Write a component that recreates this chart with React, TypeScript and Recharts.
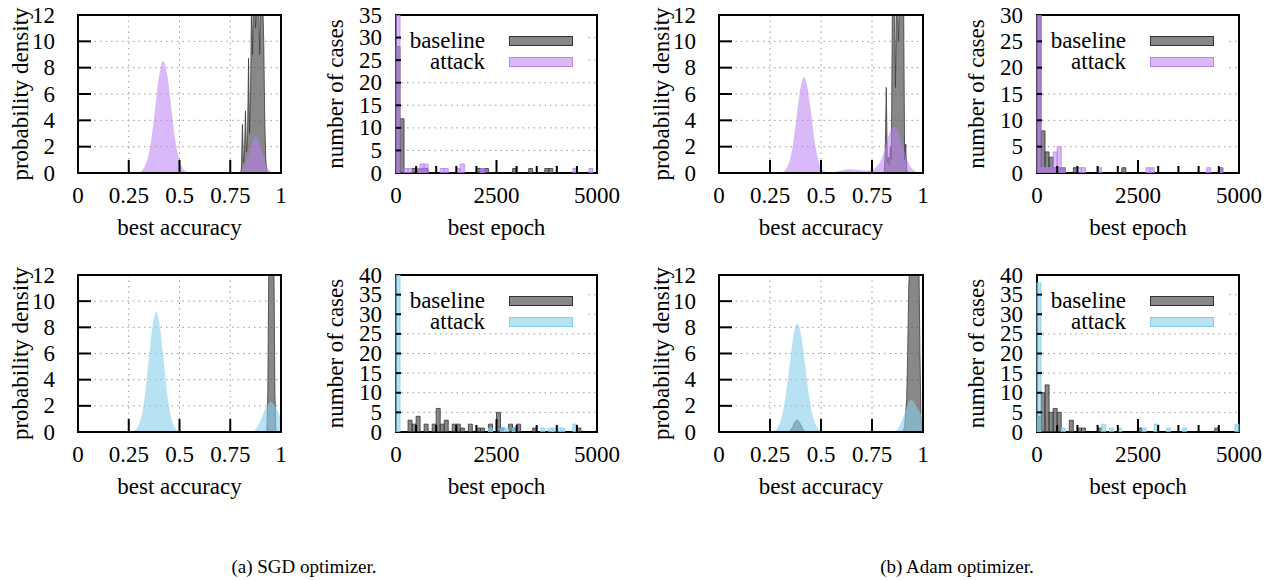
import React from 'react';
import { ComposedChart, Area, Bar, XAxis, YAxis, CartesianGrid, ReferenceArea, Legend } from 'recharts';

const FONT = '"Liberation Serif", "Times New Roman", Times, serif';
const FS = 23;
const PURPLE = '#b980f0';
const BLUE = '#87ceeb';
const GRAY = '#555555';

// ---- best accuracy densities ----
// SGD, first row
const sgdAtkAccX = [0, 0.30, 0.32, 0.34, 0.36, 0.38, 0.40, 0.42, 0.44, 0.46, 0.48, 0.50, 0.52, 0.54, 0.56, 0.76, 0.78, 0.80, 0.82, 0.84, 0.86, 0.875, 0.89, 0.91, 0.93, 0.95, 0.97, 0.99, 1];
const sgdAtkAccY = [0, 0.06, 0.27, 0.94, 2.4, 4.9, 7.4, 8.5, 7.4, 4.9, 2.4, 0.94, 0.27, 0.06, 0, 0, 0.02, 0.12, 0.52, 1.4, 2.47, 2.8, 2.47, 1.4, 0.52, 0.12, 0.02, 0, 0];
const sgdBaseAccX = [0.80, 0.805, 0.81, 0.815, 0.82, 0.825, 0.83, 0.835, 0.84, 0.845, 0.85, 0.855, 0.86, 0.865, 0.87, 0.875, 0.88, 0.885, 0.89, 0.895, 0.90, 0.905, 0.91, 0.915, 0.92, 0.925, 0.93, 0.935];
const sgdBaseAccY = [0, 0.3, 3.7, 0.8, 1.5, 4.7, 1.6, 2.5, 8.7, 3, 6, 13, 9, 13, 13, 11, 13, 13, 13, 9, 13, 13, 13, 10, 4, 1, 0.2, 0];
// Adam, first row
const adamAtkAccX = [0, 0.30, 0.32, 0.34, 0.36, 0.38, 0.40, 0.417, 0.43, 0.45, 0.47, 0.49, 0.51, 0.53, 0.55, 0.58, 0.61, 0.64, 0.67, 0.70, 0.73, 0.76, 0.78, 0.80, 0.82, 0.84, 0.86, 0.88, 0.90, 0.92, 0.94, 0.96, 0.98, 1];
const adamAtkAccY = [0, 0.02, 0.16, 0.65, 1.9, 4.2, 6.5, 7.3, 6.8, 4.7, 2.3, 0.8, 0.2, 0.06, 0.05, 0.12, 0.22, 0.28, 0.25, 0.2, 0.18, 0.3, 0.6, 1.2, 2.2, 3.2, 3.5, 3.1, 2.1, 1.1, 0.45, 0.15, 0.04, 0];
const adamBaseAccX = [0.81, 0.815, 0.82, 0.825, 0.83, 0.835, 0.84, 0.845, 0.85, 0.855, 0.86, 0.865, 0.87, 0.875, 0.88, 0.885, 0.89, 0.895, 0.90, 0.905, 0.91, 0.915, 0.92, 0.925];
const adamBaseAccY = [0, 1.5, 6.5, 0.8, 1.2, 0.6, 2, 1, 13, 13, 13, 6.5, 13, 13, 10, 13, 13, 13, 13, 13, 1, 2.2, 0.3, 0];
// SGD, second row
const sgdAtkAcc2X = [0, 0.27, 0.29, 0.31, 0.33, 0.35, 0.37, 0.385, 0.40, 0.42, 0.44, 0.46, 0.48, 0.50, 0.52, 0.84, 0.86, 0.88, 0.90, 0.92, 0.94, 0.95, 0.96, 0.98, 1];
const sgdAtkAcc2Y = [0, 0.06, 0.28, 1.05, 2.85, 5.75, 8.4, 9.2, 8.4, 5.75, 2.85, 1.05, 0.28, 0.06, 0, 0, 0.05, 0.3, 0.9, 1.7, 2.2, 2.3, 2.2, 1.7, 1.0];
const sgdBaseAcc2X = [0.93, 0.935, 0.94, 0.965, 0.97, 0.975];
const sgdBaseAcc2Y = [0, 3, 13, 13, 3, 0];
// Adam, second row
const adamAtkAcc2X = [0, 0.27, 0.29, 0.31, 0.33, 0.35, 0.37, 0.384, 0.40, 0.42, 0.44, 0.46, 0.48, 0.50, 0.52, 0.84, 0.86, 0.88, 0.90, 0.92, 0.94, 0.96, 0.98, 1];
const adamAtkAcc2Y = [0, 0.1, 0.42, 1.3, 3.1, 5.6, 7.8, 8.3, 7.6, 5.4, 2.9, 1.2, 0.37, 0.09, 0, 0, 0.05, 0.3, 1.0, 1.9, 2.45, 2.2, 1.6, 1.2];
const adamBaseAcc2X = [0.34, 0.35, 0.36, 0.37, 0.384, 0.40, 0.41, 0.42, 0.43, 0.90, 0.91, 0.92, 0.925, 0.93, 0.935, 0.98, 0.985, 0.99, 1];
const adamBaseAcc2Y = [0, 0.1, 0.35, 0.7, 0.93, 0.6, 0.25, 0.05, 0, 0, 0.4, 2.5, 6, 11, 13, 13, 6, 1, 0.2];

const accTicks = [0, 0.25, 0.5, 0.75, 1];
const densityTicks = [0, 2, 4, 6, 8, 10, 12];

// ---- best epoch histograms (100-epoch bins, bin centres) ----
const epochBins = [50, 150, 250, 350, 450, 550, 650, 750, 850, 950, 1050, 1150, 1250, 1350, 1450, 1550, 1650, 1750, 1850, 1950, 2050, 2150, 2250, 2350, 2450, 2550, 2650, 2750, 2850, 2950, 3050, 3150, 3250, 3350, 3450, 3550, 3650, 3750, 3850, 3950, 4050, 4150, 4250, 4350, 4450, 4550, 4650, 4750, 4850, 4950];
const sgdBaseHist = [28, 12, 0, 0, 1, 1, 1, 1, 0, 0, 0, 0, 0, 0, 0, 0, 0, 0, 0, 0, 1, 1, 1, 0, 0, 0, 0, 0, 0, 1, 0, 0, 0, 1, 0, 0, 0, 1, 1, 0, 0, 0, 0, 0, 0, 0, 0, 0, 0, 0];
const sgdAtkHist = [35, 0, 1, 1, 0, 1, 2, 2, 0, 0, 0, 1, 1, 0, 0, 1, 2, 0, 0, 0, 0, 1, 0, 0, 0, 0, 0, 0, 0, 0, 0, 0, 0, 0, 0, 0, 0, 0, 0, 0, 0, 0, 0, 0, 1, 0, 0, 0, 1, 0];
const adamBaseHist = [30, 8, 4, 3, 1, 1, 1, 0, 0, 1, 0, 0, 0, 0, 0, 0, 0, 0, 0, 0, 0, 1, 0, 0, 0, 0, 0, 0, 0, 0, 0, 0, 0, 0, 0, 0, 0, 0, 0, 0, 0, 0, 0, 0, 0, 1, 0, 0, 0, 0];
const adamAtkHist = [31, 1, 1, 1, 4, 5, 1, 0, 0, 0, 1, 1, 0, 0, 0, 1, 0, 0, 0, 0, 0, 0, 0, 0, 0, 0, 0, 1, 1, 0, 0, 0, 0, 0, 0, 0, 0, 0, 0, 0, 0, 0, 1, 0, 0, 1, 0, 0, 0, 0];
const sgdBaseHist2 = [0, 0, 0, 3, 2, 4, 0, 2, 0, 2, 6, 2, 3, 0, 2, 2, 1, 0, 2, 0, 1, 1, 0, 2, 0, 5, 1, 0, 2, 1, 2, 0, 0, 0, 1, 0, 0, 0, 0, 0, 0, 0, 0, 0, 0, 1, 0, 0, 0, 0];
const sgdAtkHist2 = [40, 0, 0, 0, 0, 0, 0, 0, 0, 0, 0, 0, 0, 0, 0, 0, 0, 0, 0, 0, 0, 0, 0, 1, 0, 0, 1, 1, 0, 1, 0, 0, 0, 0, 0, 0, 1, 0, 1, 1, 1, 1, 0, 0, 2, 0, 0, 0, 0, 0];
const adamBaseHist2 = [4, 10, 12, 5, 6, 5, 0, 0, 3, 0, 1, 1, 0, 0, 0, 1, 0, 0, 0, 0, 0, 0, 0, 0, 0, 1, 0, 0, 0, 0, 0, 0, 0, 0, 0, 0, 0, 0, 0, 0, 0, 0, 0, 0, 1, 0, 0, 0, 0, 0];
const adamAtkHist2 = [38, 0, 0, 0, 0, 0, 1, 0, 0, 0, 0, 0, 0, 0, 0, 0, 2, 0, 1, 0, 1, 0, 0, 0, 0, 0, 1, 0, 0, 2, 0, 0, 1, 0, 0, 0, 1, 0, 0, 0, 0, 0, 0, 0, 0, 0, 0, 0, 0, 2];

const epochTicks = [0, 500, 1000, 1500, 2000, 2500, 3000, 3500, 4000, 4500, 5000];
const ticks35 = [0, 5, 10, 15, 20, 25, 30, 35];
const ticks30 = [0, 5, 10, 15, 20, 25, 30];
const ticks40 = [0, 5, 10, 15, 20, 25, 30, 35, 40];

function mergeCurves(base: [number[], number[]], atk: [number[], number[]]) {
  const rows = new Map<number, any>();
  const put = (key: string, xs: number[], ys: number[]) =>
    xs.forEach((x, i) => {
      const row = rows.get(x) || { x };
      row[key] = ys[i];
      rows.set(x, row);
    });
  put('base', base[0], base[1]);
  put('atk', atk[0], atk[1]);
  return [...rows.values()].sort((a, b) => a.x - b.x);
}

function histTable(base: number[], atk: number[]) {
  return epochBins.map((e, i) => ({ epoch: e, base: base[i], atk: atk[i] }));
}

const ML = 80, MR = 34, MT = 12, MB = 72;

function AxisTitle({ tx, ty, text, vertical }: any) {
  return (
    <text x={tx} y={ty} textAnchor="middle" dominantBaseline="central" fontFamily={FONT} fontSize={FS} fill="#000"
      transform={vertical ? `rotate(-90 ${tx} ${ty})` : undefined}>
      {text}
    </text>
  );
}

function AccTick({ x, y, payload }: any) {
  const v = payload.value;
  return (
    <g>
      {v > 0 && v < 1 && <line x1={x} x2={x} y1={y} y2={y - 13} stroke="#000" strokeWidth={2} />}
      <text x={x} y={y + 22.5} textAnchor="middle" dominantBaseline="central" fontFamily={FONT} fontSize={FS} fill="#000">{String(v)}</text>
    </g>
  );
}

function EpochTick({ x, y, payload }: any) {
  const v = payload.value;
  const major = v % 2500 === 0;
  return (
    <g>
      {v > 0 && v < 5000 && <line x1={x} x2={x} y1={y} y2={y - (major ? 13 : 7)} stroke="#000" strokeWidth={2} />}
      {major && <text x={x} y={y + 22.5} textAnchor="middle" dominantBaseline="central" fontFamily={FONT} fontSize={FS} fill="#000">{String(v)}</text>}
    </g>
  );
}

function makeYTick(len: number, gap: number, max: number) {
  return ({ x, y, payload }: any) => (
    <g>
      {payload.value > 0 && payload.value < max && <line x1={x} x2={x + len} y1={y} y2={y} stroke="#000" strokeWidth={2} />}
      <text x={x - gap} y={y} textAnchor="end" dominantBaseline="central" fontFamily={FONT} fontSize={FS} fill="#000">{String(payload.value)}</text>
    </g>
  );
}

function DensityPanel({ left, top, w, h, data, color, alpha }: any) {
  const YTick = makeYTick(13, 23, 12);
  return (
    <div style={{ position: 'absolute', left: left - ML, top: top - MT }}>
      <ComposedChart width={ML + w + MR} height={MT + h + MB} data={data} margin={{ top: MT, right: MR, bottom: 0, left: 0 }}>
        <CartesianGrid stroke="#999" strokeDasharray="1.5 4" />
        <Area type="linear" dataKey="base" stroke="#3a3a3a" strokeWidth={0.8} fill={GRAY} fillOpacity={0.7}
          connectNulls dot={false} activeDot={false} isAnimationActive={false} />
        <Area type="monotone" dataKey="atk" stroke="none" fill={color} fillOpacity={alpha}
          connectNulls dot={false} activeDot={false} isAnimationActive={false} />
        <XAxis dataKey="x" type="number" domain={[0, 1]} ticks={accTicks} interval={0} height={MB}
          tickSize={0} tickMargin={0} tickLine={false} axisLine={false} tick={(p: any) => <AccTick {...p} />}
          label={<AxisTitle tx={ML + w / 2} ty={MT + h + 54} text="best accuracy" />} />
        <YAxis type="number" domain={[0, 12]} ticks={densityTicks} interval={0} width={ML} allowDataOverflow
          tickSize={0} tickMargin={0} tickLine={false} axisLine={false} tick={(p: any) => <YTick {...p} />}
          label={<AxisTitle tx={ML - 58} ty={MT + h / 2} text="probability density" vertical />} />
        <ReferenceArea x1={0} x2={1} y1={0} y2={12} fill="none" stroke="#000" strokeWidth={2} />
      </ComposedChart>
    </div>
  );
}

function HistLegend({ color, alpha }: any) {
  const rows = [
    { label: 'baseline', fill: GRAY, op: 0.7, stroke: '#333' },
    { label: 'attack', fill: color, op: alpha, stroke: color },
  ];
  return (
    <div style={{ position: 'relative', width: 184, height: 46, background: '#fff', fontFamily: FONT, fontSize: FS, color: '#000' }}>
      {rows.map((r, i) => (
        <div key={r.label}>
          <span style={{ position: 'absolute', right: 100, top: 14 + i * 21 - 12, lineHeight: '24px', whiteSpace: 'nowrap' }}>{r.label}</span>
          <svg style={{ position: 'absolute', left: 108, top: 14 + i * 21 - 5 }} width={64} height={10}>
            <rect x={0.5} y={0.5} width={63} height={9} fill={r.fill} fillOpacity={r.op} stroke={r.stroke} />
          </svg>
        </div>
      ))}
    </div>
  );
}

function HistPanel({ left, top, w, h, data, ymax, yticks, color, alpha }: any) {
  const YTick = makeYTick(5, 14, ymax);
  return (
    <div style={{ position: 'absolute', left: left - ML, top: top - MT }}>
      <ComposedChart width={ML + w + MR} height={MT + h + MB} data={data} margin={{ top: MT, right: MR, bottom: 0, left: 0 }}
        barGap={-4} barCategoryGap={0}>
        <CartesianGrid stroke="#999" strokeDasharray="1.5 4" vertical={false} />
        <Bar dataKey="base" barSize={4} fill={GRAY} fillOpacity={0.7} stroke="#333" strokeWidth={0.8} isAnimationActive={false} />
        <Bar dataKey="atk" barSize={4} fill={color} fillOpacity={alpha} stroke={color} strokeWidth={0.8} isAnimationActive={false} />
        <XAxis dataKey="epoch" type="number" domain={[0, 5000]} ticks={epochTicks} interval={0} height={MB}
          tickSize={0} tickMargin={0} tickLine={false} axisLine={false} tick={(p: any) => <EpochTick {...p} />}
          label={<AxisTitle tx={ML + w / 2} ty={MT + h + 54} text="best epoch" />} />
        <YAxis type="number" domain={[0, ymax]} ticks={yticks} interval={0} width={ML} allowDataOverflow
          tickSize={0} tickMargin={0} tickLine={false} axisLine={false} tick={(p: any) => <YTick {...p} />}
          label={<AxisTitle tx={ML - 61} ty={MT + h / 2} text="number of cases" vertical />} />
        <ReferenceArea x1={0} x2={5000} y1={0} y2={ymax} fill="none" stroke="#000" strokeWidth={2} />
        <Legend layout="horizontal" verticalAlign="middle" align="center"
          wrapperStyle={{ left: ML + 5, top: MT + 12, width: 184, height: 46 }}
          content={() => <HistLegend color={color} alpha={alpha} />} />
      </ComposedChart>
    </div>
  );
}

const caption: React.CSSProperties = {
  position: 'absolute', top: 567, transform: 'translate(-50%, -50%)', fontFamily: FONT, fontSize: 19, whiteSpace: 'nowrap', color: '#000',
};

export default function App() {
  return (
    <div style={{ position: 'absolute', left: 0, top: 0, width: 1273, height: 580, background: '#fff', overflow: 'hidden' }}>
      <DensityPanel left={78} top={15} w={203} h={158} color={PURPLE} alpha={0.55}
        data={mergeCurves([sgdBaseAccX, sgdBaseAccY], [sgdAtkAccX, sgdAtkAccY])} />
      <HistPanel left={396} top={15} w={201} h={158} ymax={35} yticks={ticks35} color={PURPLE} alpha={0.55}
        data={histTable(sgdBaseHist, sgdAtkHist)} />
      <DensityPanel left={719} top={15} w={204} h={158} color={PURPLE} alpha={0.55}
        data={mergeCurves([adamBaseAccX, adamBaseAccY], [adamAtkAccX, adamAtkAccY])} />
      <HistPanel left={1037} top={15} w={202} h={158} ymax={30} yticks={ticks30} color={PURPLE} alpha={0.55}
        data={histTable(adamBaseHist, adamAtkHist)} />

      <DensityPanel left={78} top={275} w={203} h={157} color={BLUE} alpha={0.6}
        data={mergeCurves([sgdBaseAcc2X, sgdBaseAcc2Y], [sgdAtkAcc2X, sgdAtkAcc2Y])} />
      <HistPanel left={396} top={275} w={201} h={157} ymax={40} yticks={ticks40} color={BLUE} alpha={0.6}
        data={histTable(sgdBaseHist2, sgdAtkHist2)} />
      <DensityPanel left={719} top={275} w={204} h={157} color={BLUE} alpha={0.6}
        data={mergeCurves([adamBaseAcc2X, adamBaseAcc2Y], [adamAtkAcc2X, adamAtkAcc2Y])} />
      <HistPanel left={1037} top={275} w={202} h={157} ymax={40} yticks={ticks40} color={BLUE} alpha={0.6}
        data={histTable(adamBaseHist2, adamAtkHist2)} />

      <div style={{ ...caption, left: 304 }}>(a) SGD optimizer.</div>
      <div style={{ ...caption, left: 957 }}>(b) Adam optimizer.</div>
    </div>
  );
}
